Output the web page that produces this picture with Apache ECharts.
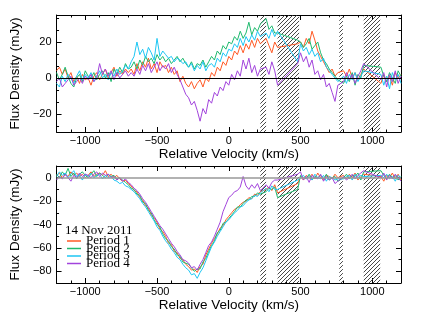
<!DOCTYPE html>
<html><head><meta charset="utf-8">
<script src="https://cdn.jsdelivr.net/npm/echarts@6/dist/echarts.min.js"></script>
<style>html,body{margin:0;padding:0;background:#fff}#c{width:426px;height:319px}</style>
</head><body><div id="c"></div>
<script>
// ---- data ----
const velocity = [-1200,-1180,-1160,-1140,-1120,-1100,-1080,-1060,-1040,-1020,-1000,-980,-960,-940,-920,-900,-880,-860,-840,-820,-800,-780,-760,-740,-720,-700,
-680,-660,-640,-620,-600,-580,-560,-540,-520,-500,-480,-460,
-440,-420,-400,-380,-360,-340,-320,-300,
-280,-260,-240,-220,-200,-180,-160,-140,
-120,-100,-80,-60,-40,-20,0,
20,40,60,80,100,120,140,160,180,200,220,
260,280,300,320,340,
480,500,520,540,560,580,600,620,640,660,680,700,720,740,760,
800,820,840,860,880,900,920,940,
1060,1080,1100,1120,1140,1160,1180,1200];

const topPeriod1 = [4,6,2,5,0,3,-2,1,-3,2,-1,0,-4,1,3,-1,2,5,0,3,6,1,4,2,5,3,
5,2,8,4,9,6,11,5,8,3,9,6,
7,3,6,2,4,-2,1,-3,
-5,-2,-6,-3,-1,-5,0,-2,
3,1,6,4,9,7,12,
10,15,13,18,14,19,16,21,17,22,19,
22,18,14,20,17,
19,20,17,22,19,26,21,15,12,9,6,3,5,1,3,
4,1,5,0,3,-1,2,5,
-3,2,-2,1,-4,3,0,2];
const topPeriod2 = [3,-1,2,6,1,-3,-5,0,2,-2,4,1,0,3,-1,2,4,0,3,-2,5,2,6,3,8,5,
6,9,5,10,7,12,9,11,8,13,10,12,
9,11,8,10,12,9,11,8,
6,9,5,8,7,10,6,9,
12,10,15,13,18,16,20,
19,23,21,26,22,25,31,24,28,26,30,
33,27,29,25,25,
21,20,17,19,22,16,18,20,14,10,8,5,3,1,-1,
-3,1,-2,3,-4,2,0,7,
6,1,-2,3,0,-3,4,1];
const topPeriod3 = [-3,-5,1,-2,2,0,-3,1,4,-1,2,0,3,-2,1,4,0,2,-1,3,1,5,2,4,7,5,
9,12,20,13,16,11,17,14,10,22,12,15,
13,11,12,9,11,10,8,9,
6,8,4,7,5,9,4,7,
8,6,11,9,14,12,16,
15,19,17,22,18,23,20,24,21,26,23,
25,22,27,23,26,
9,19,15,17,13,16,12,14,9,11,6,4,2,0,-2,
1,-3,2,-1,3,-2,1,4,
2,-4,1,-6,3,-1,2,-3];
const topPeriod4 = [-2,0,-5,-3,-1,1,-4,-2,0,-3,1,-1,2,-2,0,8,2,5,1,4,-1,3,0,2,4,1,
3,1,5,2,7,4,8,3,6,9,4,7,
5,8,3,6,2,-1,-5,-9,
-11,-15,-13,-18,-24,-17,-20,-12,
-14,-8,-10,-5,-7,-2,-4,
2,-1,4,1,10,5,11,3,7,1,5,
6,2,9,4,-4,
8,14,9,12,6,10,2,4,-1,2,-5,-3,-8,-13,-4,
-2,3,-1,2,-3,1,4,8,
-1,3,-5,2,-2,4,-3,1];

const bottomPeriod1 = [2,4,0,3,1,5,2,4,1,3,0,2,5,1,3,4,2,6,1,3,0,2,-1,-3,-2,-5,
-7,-11,-12,-17,-19,-24,-26,-32,-34,-38,-44,-46,
-50,-56,-57,-63,-64,-69,-70,-74,
-76,-79,-78,-81,-76,-74,-66,-61,
-56,-52,-48,-43,-41,-36,-33,
-30,-27,-26,-23,-21,-20,-17,-18,-14,-15,-12,
-10,-8,-11,-6,-13,
-5,1,-2,2,0,3,-1,4,0,-2,2,1,-1,3,0,
2,-1,3,0,4,-2,1,3,
1,-3,2,0,4,-1,3,-2];
const bottomPeriod2 = [3,0,5,2,8,1,4,-1,3,5,2,0,3,6,1,4,2,0,3,1,2,-1,0,-2,-4,-6,
-9,-10,-14,-15,-21,-22,-28,-30,-36,-40,-42,-48,
-52,-54,-59,-61,-66,-67,-72,-73,
-74,-77,-80,-78,-78,-72,-69,-63,
-58,-54,-47,-45,-39,-38,-35,
-32,-29,-25,-25,-22,-19,-19,-16,-16,-13,-14,
-12,-9,-10,-8,-17,
-10,2,0,-1,3,-2,1,0,2,-1,3,-2,0,1,-3,
0,3,-1,2,1,4,-2,5,
6,2,-1,3,0,2,-2,1];
const bottomPeriod3 = [1,5,2,4,0,3,6,1,2,-2,3,1,4,0,2,3,-1,2,0,1,-2,-3,-5,-4,-7,-8,
-10,-12,-15,-18,-22,-25,-29,-33,-37,-42,-45,-50,
-54,-57,-61,-64,-68,-70,-74,-77,
-79,-83,-82,-86,-81,-77,-71,-65,
-59,-55,-50,-46,-42,-38,-36,
-33,-30,-28,-25,-24,-21,-19,-18,-15,-16,-13,
-9,-12,-7,-10,-10,
-2,0,2,-1,1,-2,3,0,-1,2,-3,1,0,-2,-1,
-1,1,2,-2,3,0,2,1,
2,0,3,-1,1,-3,2,0];
const bottomPeriod4 = [-2,1,-1,3,0,-3,2,0,4,1,3,2,0,3,5,1,4,2,3,0,1,-2,0,-3,-1,-4,
-6,-9,-11,-14,-18,-21,-25,-29,-33,-37,-41,-44,
-48,-52,-56,-59,-63,-66,-70,-71,
-73,-77,-76,-79,-74,-70,-64,-58,
-55,-50,-44,-38,-29,-23,-17,
-15,-12,-11,-8,1,-7,-10,-6,-9,-5,-11,
-6,-9,-4,-2,-2,
3,5,-2,1,-4,2,0,-1,3,-3,1,-2,0,-5,-3,
1,-2,0,3,-1,2,4,6,
0,4,-2,2,-1,3,0,-3];

const seriesNames = ['Period 1','Period 2','Period 3','Period 4'];
const dateLabel = '14 Nov 2011';
const xTickLabels = [-1000,-500,0,500,1000];
const yTickLabelsTop = [-20,0,20];
const yTickLabelsBottom = [-80,-60,-40,-20,0];
const hatchStart = [220,340,770,940];
const hatchEnd = [260,490,795,1055];
const xTitle = 'Relative Velocity (km/s)';
const yTitle = 'Flux Density (mJy)';

// ---- styling ----
const colors = ['#ff5a26','#1fb96e','#1ec6f3','#a244dc'];
const FONT = 'Liberation Sans, Arial, Helvetica, sans-serif';
const SERIF = 'Liberation Serif, DejaVu Serif, serif';
const fmt = v => String(v).replace('-', '\u2212');

function hatchPattern(){
  const s = 4, c = document.createElement('canvas');
  c.width = s; c.height = s;
  const g = c.getContext('2d');
  g.strokeStyle = '#333'; g.lineWidth = 0.9;
  g.beginPath();
  g.moveTo(0, s); g.lineTo(s, 0);
  g.moveTo(-1, 1); g.lineTo(1, -1);
  g.moveTo(s-1, s+1); g.lineTo(s+1, s-1);
  g.stroke();
  return c;
}
const hatchImg = hatchPattern();

function xAxesFor(gi){
  const base = {type:'value', gridIndex:gi, min:-1200, max:1200, splitLine:{show:false}};
  const tk = {lineStyle:{color:'#000', width:1}};
  return [
    Object.assign({}, base, {position:'bottom',
      axisLine:{show:true, onZero:false, lineStyle:{color:'#000', width:1}},
      axisTick:Object.assign({show:true, inside:true, length:5, customValues:xTickLabels}, tk),
      axisLabel:{show:true, customValues:xTickLabels, formatter:fmt, color:'#000', fontSize:11, margin:3, fontFamily:FONT},
      name:xTitle, nameLocation:'middle', nameGap:14,
      nameTextStyle:{color:'#000', fontSize:13.5, fontFamily:FONT}}),
    Object.assign({}, base, {position:'bottom', interval:100,
      axisLine:{show:false, onZero:false}, axisTick:Object.assign({show:true, inside:true, length:2.5}, tk), axisLabel:{show:false}}),
    Object.assign({}, base, {position:'top',
      axisLine:{show:true, onZero:false, lineStyle:{color:'#000', width:1}},
      axisTick:Object.assign({show:true, inside:true, length:5, customValues:xTickLabels}, tk), axisLabel:{show:false}}),
    Object.assign({}, base, {position:'top', interval:100,
      axisLine:{show:false, onZero:false}, axisTick:Object.assign({show:true, inside:true, length:2.5}, tk), axisLabel:{show:false}})
  ];
}

function yAxesFor(gi, min, max, majors, minors){
  const base = {type:'value', gridIndex:gi, min:min, max:max, splitLine:{show:false}};
  const tk = {lineStyle:{color:'#000', width:1}};
  return [
    Object.assign({}, base, {position:'left',
      axisLine:{show:true, onZero:false, lineStyle:{color:'#000', width:1}},
      axisTick:Object.assign({show:true, inside:true, length:5, customValues:majors}, tk),
      axisLabel:{show:true, customValues:majors, formatter:fmt, color:'#000', fontSize:11, margin:5, fontFamily:FONT},
      name:yTitle, nameLocation:'middle', nameGap:31,
      nameTextStyle:{color:'#000', fontSize:13.5, fontFamily:FONT}}),
    Object.assign({}, base, {position:'left',
      axisLine:{show:false, onZero:false}, axisTick:Object.assign({show:true, inside:true, length:2.5, customValues:minors}, tk), axisLabel:{show:false}}),
    Object.assign({}, base, {position:'right',
      axisLine:{show:true, onZero:false, lineStyle:{color:'#000', width:1}},
      axisTick:Object.assign({show:true, inside:true, length:5, customValues:majors}, tk), axisLabel:{show:false}}),
    Object.assign({}, base, {position:'right',
      axisLine:{show:false, onZero:false}, axisTick:Object.assign({show:true, inside:true, length:2.5, customValues:minors}, tk), axisLabel:{show:false}})
  ];
}

const minorTop = [];
for (let k = -4; k <= 5; k++) minorTop.push(Math.round(k*20/3*1000)/1000);
const minorBottom = [];
for (let v = -90; v <= 10; v += 10) minorBottom.push(v);

const hatchAreas = hatchStart.map((s, i) => [{xAxis:s}, {xAxis:hatchEnd[i]}]);

function panelSeries(gi, arrays, zeroStyle){
  const xi = gi*4, yi = gi*4;
  return arrays.map((arr, i) => {
    const s = {
      type:'line', name:seriesNames[i], xAxisIndex:xi, yAxisIndex:yi,
      data: velocity.map((v, j) => [v, arr[j]]),
      showSymbol:false, symbol:'none', smooth:false,
      lineStyle:{color:colors[i], width:1}, itemStyle:{color:colors[i]},
      animation:false, z:2
    };
    if (i === 0) {
      s.markArea = {silent:true, itemStyle:{color:{image:hatchImg, repeat:'repeat'}, borderWidth:0}, data:hatchAreas, z:1};
      s.markLine = {silent:true, symbol:['none','none'], label:{show:false},
        lineStyle:zeroStyle, data:[{yAxis:0}], animation:false};
    }
    return s;
  });
}

const chart = echarts.init(document.getElementById('c'), null, {renderer:'canvas'});
chart.setOption({
  animation:false,
  backgroundColor:'#fff',
  grid:[
    {left:50, top:15, width:351, height:117},
    {left:50, top:166, width:351, height:117}
  ],
  xAxis:[].concat(xAxesFor(0), xAxesFor(1)),
  yAxis:[].concat(yAxesFor(0, -30, 35, yTickLabelsTop, minorTop), yAxesFor(1, -90, 10, yTickLabelsBottom, minorBottom)),
  title:{text:dateLabel, left:65, top:224, padding:0, textStyle:{fontSize:13, fontWeight:'normal', color:'#000', fontFamily:SERIF}},
  legend:{data:seriesNames, orient:'vertical', left:67, top:234.5, padding:0, itemWidth:14, itemHeight:1.5, itemGap:-5.5,
    icon:'rect', textStyle:{fontSize:13, color:'#000', fontFamily:SERIF}},
  series:[].concat(
    panelSeries(0, [topPeriod1, topPeriod2, topPeriod3, topPeriod4], {color:'#000', width:1, type:'solid'}),
    panelSeries(1, [bottomPeriod1, bottomPeriod2, bottomPeriod3, bottomPeriod4], {color:'#999', width:1.6, type:'solid'})
  )
});
</script>
</body></html>
